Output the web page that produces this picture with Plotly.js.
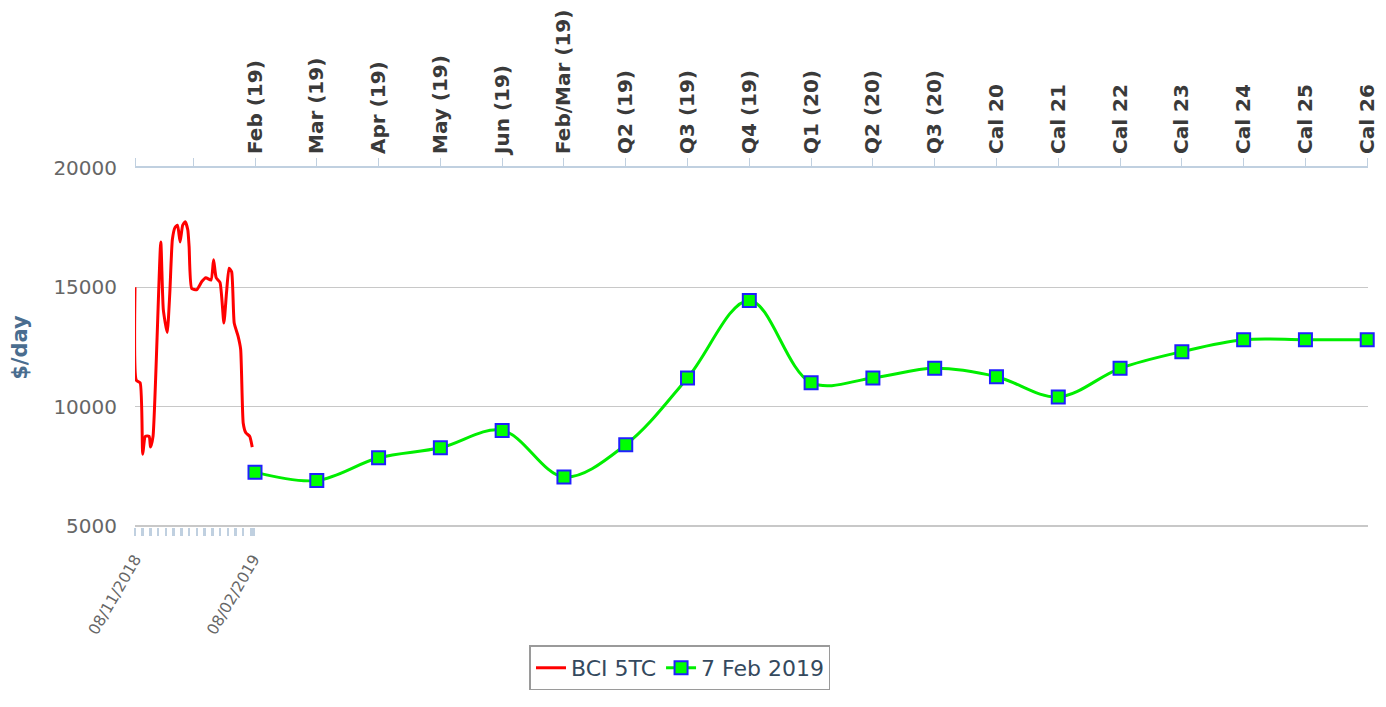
<!DOCTYPE html>
<html>
<head>
<meta charset="utf-8">
<script src="https://cdn.plot.ly/plotly-3.0.1.min.js"></script>
<style>html,body{margin:0;padding:0;background:#fff;}#chart{width:1386px;height:707px;}</style>
</head>
<body>
<div id="chart"></div>
<script>
// ---- data ----
const categories = ['Feb (19)','Mar (19)','Apr (19)','May (19)','Jun (19)','Feb/Mar (19)','Q2 (19)','Q3 (19)','Q4 (19)','Q1 (20)','Q2 (20)','Q3 (20)','Cal 20','Cal 21','Cal 22','Cal 23','Cal 24','Cal 25','Cal 26'];
const curveValues = [7250, 6900, 7850, 8270, 9000, 7050, 8400, 11200, 14450, 11000, 11200, 11600, 11250, 10400, 11600, 12300, 12800, 12800, 12800];
const curveName = '7 Feb 2019';

const indexDates = ['2018-11-08','2018-11-09','2018-11-12','2018-11-14','2018-11-16','2018-11-19','2018-11-20','2018-11-22','2018-11-28','2018-11-30','2018-12-03','2018-12-05','2018-12-07','2018-12-09','2018-12-11','2018-12-13','2018-12-15','2018-12-17','2018-12-19','2018-12-20','2018-12-22','2018-12-26','2018-12-30','2019-01-02','2019-01-06','2019-01-08','2019-01-10','2019-01-13','2019-01-16','2019-01-18','2019-01-20','2019-01-22','2019-01-24','2019-01-27','2019-01-29','2019-01-31','2019-02-02','2019-02-05','2019-02-07'];
const indexValues = [15000,11100,11000,8000,8750,8750,8300,8750,16900,14050,13100,14750,17000,17500,17600,16900,17600,17750,17400,16700,14950,14900,15250,15400,15300,16150,15400,15200,13500,14750,15800,15650,13500,12950,12400,9300,8900,8750,8300];
const indexName = 'BCI 5TC';

const dateTickVals = ['2018-11-08','2019-02-08'];
const yTickVals = [5000, 10000, 15000, 20000];
const yTickText = ['5000', '10000', '15000', '20000'];

// ---- axis geometry ----
const DAY = 86400000;
const startMs = Date.parse(dateTickVals[0] + 'T00:00:00Z');
const endTickMs = Date.parse(dateTickVals[1] + 'T00:00:00Z');
const plotW = 1386 - 135 - 18;
const pxPerDay = 118.5 / ((endTickMs - startMs) / DAY);
const rangeEndMs = startMs + (plotW / pxPerDay) * DAY;
function iso(ms){ return new Date(ms).toISOString().slice(0,10); }
const minorVals = [];
for (let t = startMs; t <= endTickMs; t += 6*DAY) minorVals.push(iso(t));

const idx = categories.map((c,i)=>i);
const pxPerCat = 61.79;
const topLeft = -(255 - 135) / pxPerCat;
const topRight = (1368 - 255) / pxPerCat;

const traces = [
  {
    x: indexDates, y: indexValues, name: indexName, type: 'scatter', mode: 'lines',
    xaxis: 'x', yaxis: 'y',
    line: {color: '#ff0000', width: 3, shape: 'spline', smoothing: 0.5}
  },
  {
    x: idx, y: curveValues, name: curveName, type: 'scatter', mode: 'lines+markers',
    xaxis: 'x2', yaxis: 'y', cliponaxis: false,
    line: {color: '#00ee00', width: 3, shape: 'spline', smoothing: 1},
    marker: {symbol: 'square', size: 13, color: '#00ff00', line: {color: '#2020ff', width: 2}}
  }
];

const layout = {
  width: 1386, height: 707,
  margin: {l: 135, r: 18, t: 168, b: 180, pad: 0},
  paper_bgcolor: '#ffffff', plot_bgcolor: '#ffffff',
  showlegend: true,
  legend: {
    orientation: 'h', x: 0.442, xanchor: 'center', y: -0.33, yanchor: 'top',
    bordercolor: '#9a9a9a', borderwidth: 1.5, bgcolor: '#ffffff',
    font: {family: 'DejaVu Sans', size: 22, color: '#34495e'},
    itemwidth: 30, tracegroupgap: 0
  },
  xaxis: {
    type: 'date', range: [iso(startMs), iso(rangeEndMs)],
    showgrid: false, zeroline: false, showline: false,
    tickvals: dateTickVals, tickformat: '%d/%m/%Y', tickangle: -60,
    ticks: 'outside', ticklen: 8, tickwidth: 2.5, tickcolor: '#c0d0e0',
    ticklabelstandoff: 8,
    tickfont: {family: 'DejaVu Sans', size: 15.5, color: '#666666'},
    minor: {tickvals: minorVals, ticks: 'outside', ticklen: 8, tickwidth: 2.5, tickcolor: '#c0d0e0', showgrid: false}
  },
  xaxis2: {
    overlaying: 'x', side: 'top', anchor: 'y', type: 'linear',
    range: [topLeft, topRight],
    tickvals: [topLeft + 0.005, -1].concat(idx), ticktext: ['', ''].concat(categories),
    tickangle: -90, ticks: 'outside', ticklen: 8, tickwidth: 1, tickcolor: '#c0d0e0',
    showline: true, linecolor: '#c0d0e0', linewidth: 2,
    showgrid: false, zeroline: false,
    tickfont: {family: 'DejaVu Sans', size: 20, color: '#3a3a3a', weight: 'bold'}
  },
  yaxis: {
    range: [4950, 20000], tickvals: yTickVals, ticktext: yTickText,
    showgrid: true, gridcolor: '#c8c8c8', gridwidth: 1.5,
    zeroline: false, showline: false, ticks: '',
    ticklabelstandoff: 17,
    tickfont: {family: 'DejaVu Sans', size: 20, color: '#666666'},
    title: {text: '$/day', standoff: 20, font: {family: 'DejaVu Sans', size: 21, color: '#4a6d8f', weight: 'bold'}}
  }
};

Plotly.newPlot('chart', traces, layout, {displayModeBar: false, staticPlot: true});
</script>
</body>
</html>
